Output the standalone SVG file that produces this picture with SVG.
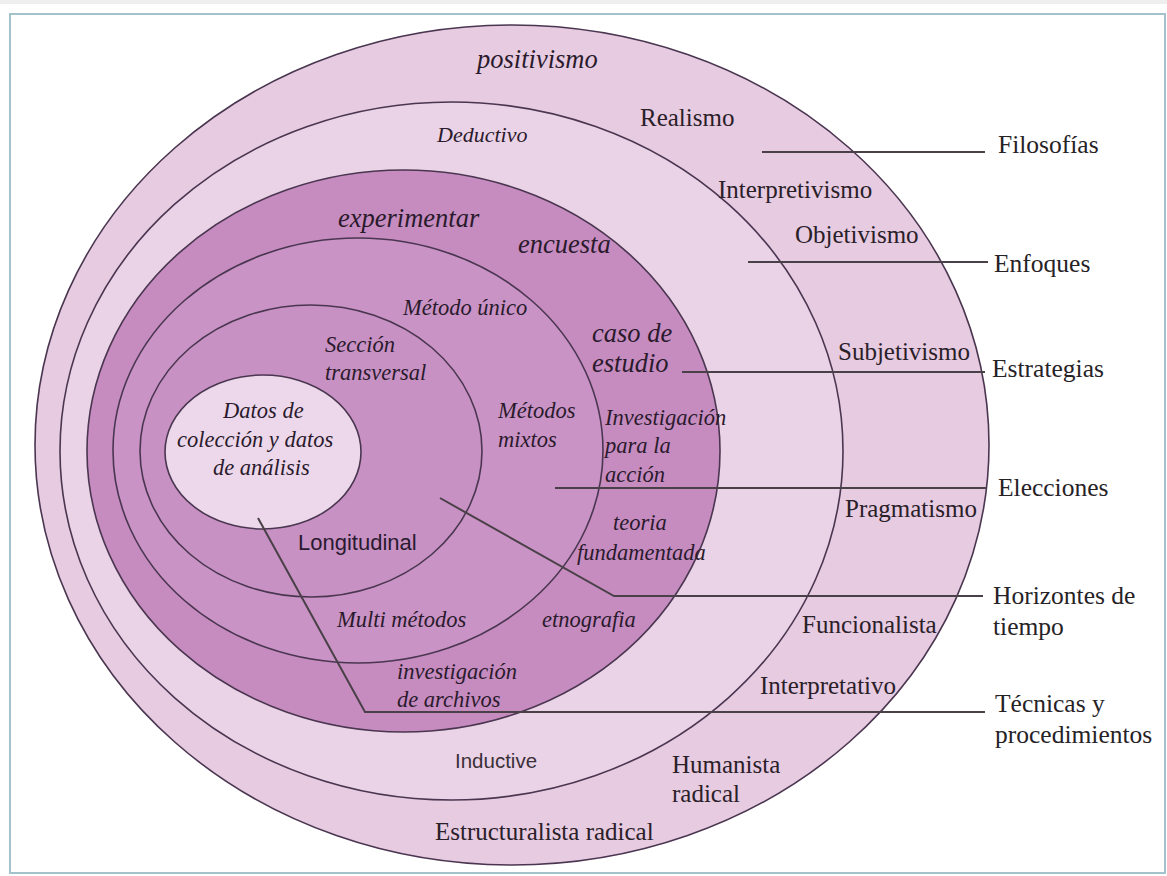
<svg xmlns="http://www.w3.org/2000/svg" width="1167" height="876" viewBox="0 0 1167 876">
  <style>
    .ring { stroke: #4a3650; stroke-width: 1.6; }
    .conn { fill: none; stroke: #4a4048; stroke-width: 2; }
    .serif { font-family: "Liberation Serif", "Times New Roman", serif; font-size: 25px; fill: #2a2028; }
    .ital { font-family: "Liberation Serif", "Times New Roman", serif; font-style: italic; font-size: 22.5px; fill: #2a1a2c; }
    .big { font-size: 26.5px; }
    .sans { font-family: "Liberation Sans", Arial, sans-serif; fill: #2a1a30; }
    .side { font-family: "Liberation Serif", "Times New Roman", serif; font-size: 25.5px; fill: #262226; }
  </style>
  <rect x="0" y="0" width="1167" height="876" fill="#ffffff"/>
  <rect x="0" y="0" width="1167" height="4" fill="#eeeeee"/>
  <rect x="10" y="14" width="1155" height="859" fill="#ffffff" stroke="#a3c2cc" stroke-width="2"/>

  <g id="filosofias-ring">
    <ellipse class="ring" cx="512" cy="445" rx="477" ry="420" fill="#e6cbe1"/>
  </g>
  <g id="enfoques-ring">
    <ellipse class="ring" cx="451.5" cy="451" rx="391.5" ry="349" fill="#ead3e6"/>
  </g>
  <g id="estrategias-ring">
    <ellipse class="ring" cx="403.5" cy="451" rx="316.5" ry="281" fill="#c68cc0"/>
  </g>
  <g id="elecciones-ring">
    <ellipse class="ring" cx="358" cy="450.5" rx="245" ry="212.5" fill="#c993c5"/>
  </g>
  <g id="horizontes-ring">
    <ellipse class="ring" cx="311" cy="451" rx="171" ry="146" fill="#c891c3"/>
  </g>
  <g id="nucleo">
    <ellipse class="ring" cx="263" cy="452" rx="98" ry="77" fill="#ecd8ea"/>
  </g>

  <g id="connectors">
    <line class="conn" x1="762" y1="152" x2="985" y2="152"/>
    <line class="conn" x1="748" y1="262" x2="988" y2="262"/>
    <line class="conn" x1="682" y1="372" x2="985" y2="372"/>
    <line class="conn" x1="555" y1="488" x2="987" y2="488"/>
    <polyline class="conn" points="440,498 614,596 983,596"/>
    <polyline class="conn" points="258,518 365,712 985,712"/>
  </g>

  <g id="labels-filosofias">
    <text class="ital big" x="477" y="68">positivismo</text>
    <text class="serif" x="640" y="126">Realismo</text>
    <text class="serif" x="718" y="198">Interpretivismo</text>
    <text class="serif" x="795" y="243">Objetivismo</text>
    <text class="serif" x="838" y="360">Subjetivismo</text>
    <text class="serif" x="845" y="517">Pragmatismo</text>
    <text class="serif" x="802" y="633">Funcionalista</text>
    <text class="serif" x="760" y="694">Interpretativo</text>
    <text class="serif" x="672" y="773">Humanista</text>
    <text class="serif" x="672" y="802">radical</text>
    <text class="serif" x="435" y="840">Estructuralista radical</text>
  </g>
  <g id="labels-enfoques">
    <text class="ital" x="437" y="142" style="font-size:22px">Deductivo</text>
    <text class="sans" x="455" y="768" style="font-size:20.5px;fill:#3a3038">Inductive</text>
  </g>
  <g id="labels-estrategias">
    <text class="ital big" x="338" y="227">experimentar</text>
    <text class="ital big" x="518" y="253">encuesta</text>
    <text class="ital big" x="592" y="342">caso de</text>
    <text class="ital big" x="592" y="372">estudio</text>
    <text class="ital" x="605" y="425">Investigación</text>
    <text class="ital" x="605" y="453">para la</text>
    <text class="ital" x="605" y="482">acción</text>
    <text class="ital" x="613" y="530">teoria</text>
    <text class="ital" x="577" y="560">fundamentada</text>
    <text class="ital" x="542" y="627">etnografia</text>
    <text class="ital" x="397" y="679">investigación</text>
    <text class="ital" x="397" y="707">de archivos</text>
  </g>
  <g id="labels-elecciones">
    <text class="ital" x="403" y="315">Método único</text>
    <text class="ital" x="498" y="418">Métodos</text>
    <text class="ital" x="498" y="447">mixtos</text>
    <text class="ital" x="337" y="627">Multi métodos</text>
  </g>
  <g id="labels-horizontes">
    <text class="ital" x="325" y="352">Sección</text>
    <text class="ital" x="325" y="380">transversal</text>
    <text class="sans" x="298" y="550" style="font-size:22px">Longitudinal</text>
  </g>
  <g id="labels-nucleo">
    <text class="ital" x="223" y="418">Datos de</text>
    <text class="ital" x="177" y="447">colección y datos</text>
    <text class="ital" x="213" y="475">de análisis</text>
  </g>

  <g id="side-labels">
    <text class="side" x="998" y="153">Filosofías</text>
    <text class="side" x="994" y="272">Enfoques</text>
    <text class="side" x="992" y="377">Estrategias</text>
    <text class="side" x="998" y="496">Elecciones</text>
    <text class="side" x="993" y="604">Horizontes de</text>
    <text class="side" x="993" y="635">tiempo</text>
    <text class="side" x="995" y="712">Técnicas y</text>
    <text class="side" x="995" y="743">procedimientos</text>
  </g>
</svg>
